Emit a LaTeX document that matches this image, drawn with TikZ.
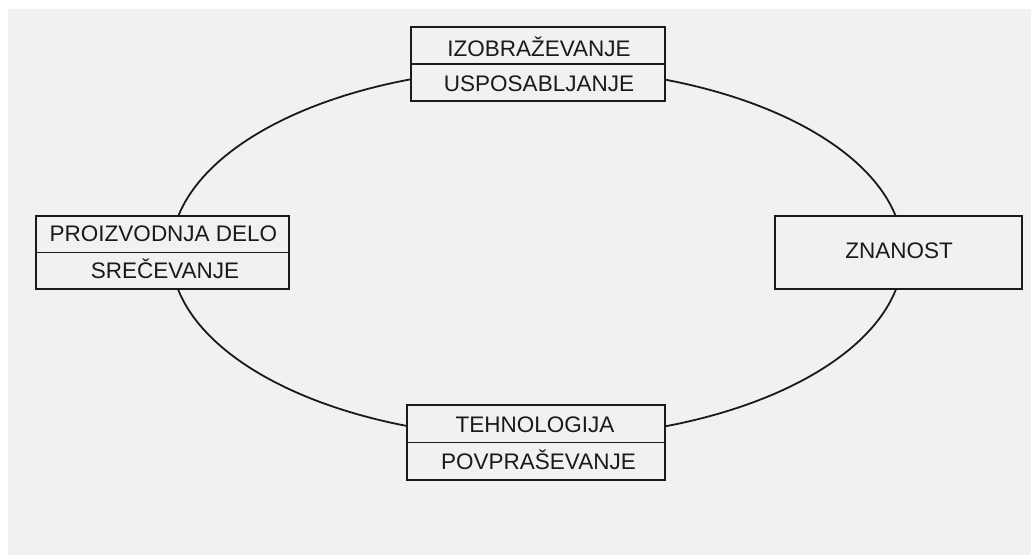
\documentclass[tikz,border=0pt]{standalone}
\usepackage{fontspec}
\setmainfont{Liberation Sans}
\definecolor{paper}{HTML}{EFF1F2}
\definecolor{ink}{HTML}{1A1A1A}
\begin{document}
\begin{tikzpicture}[x=1pt,y=-1pt,
  box/.style={draw=ink,line width=1.4pt,fill=paper,rectangle,inner sep=0pt,outer sep=0pt},
  label/.style={anchor=base,inner sep=0pt,text=ink,font=\fontsize{22.5}{26}\selectfont},
  ring/.style={draw=ink,line width=1.8pt}]
\useasboundingbox (0,0) rectangle (1031,555);
\fill[white] (0,0) rectangle (1031,555);
\fill[paper] (8,9) rectangle (1031,555);
% ellipse
\draw[ring] (537,253) ellipse [x radius=366, y radius=185];
% top box
\node[box,minimum width=254pt,minimum height=74pt] (top) at (538,64) {};
\draw[ink,line width=1.3pt] (top.west) -- (top.east);
\node[label] (top1) at (539,56.7) {IZOBRAŽEVANJE};
\node[label] (top2) at (539,91) {USPOSABLJANJE};
% left box
\node[box,minimum width=253pt,minimum height=73pt] (left) at (162.5,252.5) {};
\draw[ink,line width=1.3pt] (left.west) -- (left.east);
\node[label] (left1) at (163.5,241.7) {PROIZVODNJA DELO};
\node[label] (left2) at (165,278) {SREČEVANJE};
% right box
\node[box,minimum width=247pt,minimum height=73pt] (right) at (898.5,252.5) {};
\node[label] (right1) at (899,258) {ZNANOST};
% bottom box
\node[box,minimum width=258pt,minimum height=75pt] (bottom) at (536,442.5) {};
\draw[ink,line width=1.3pt] (bottom.west) -- (bottom.east);
\node[label] (bottom1) at (535,432.7) {TEHNOLOGIJA};
\node[label] (bottom2) at (538.5,469) {POVPRAŠEVANJE};
\end{tikzpicture}
\end{document}
